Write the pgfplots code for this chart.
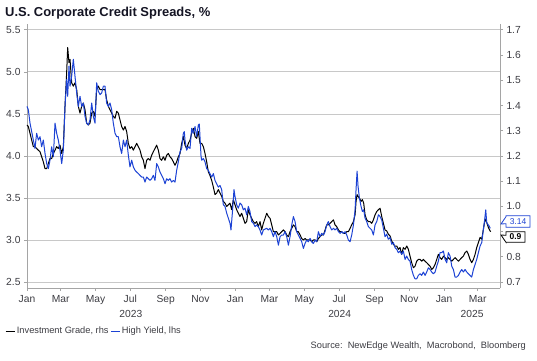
\documentclass[border=0pt]{standalone}
\usepackage{fontspec}
\setmainfont{Liberation Sans}
\usepackage{pgfplots}
\pgfplotsset{compat=1.18}
\usepackage{pgfplotstable}
\usetikzlibrary{shapes.callouts}
\definecolor{hyblue}{RGB}{28,66,212}
\definecolor{lab}{RGB}{60,60,66}
\definecolor{gridc}{RGB}{200,200,200}
\definecolor{axc}{RGB}{165,165,165}
\definecolor{ttl}{RGB}{20,20,35}

% High Yield (lhs), x = days since 1 Jan 2023
\pgfplotstableread{
d v
0 4.59
2.3 4.55
5.3 4.39
8.2 4.29
11.1 4.19
14.0 4.09
16.9 4.27
19.9 4.19
22.8 4.23
25.7 4.11
28.6 4.19
31.6 4.03
34.5 3.91
37.4 3.85
40.3 3.95
43.2 4.11
46.2 3.99
49.1 4.39
52.0 4.27
54.9 4.19
57.8 4.07
60.8 3.91
63.7 4.07
66.6 4.59
69.5 4.91
71.3 4.71
73.6 5.07
75.4 4.83
78.3 4.95
81.2 5.15
84.1 4.95
87.1 4.75
90.0 4.59
92.9 4.71
95.8 4.59
98.7 4.63
101.7 4.47
104.6 4.39
107.5 4.37
110.4 4.43
113.4 4.63
116.3 4.47
119.2 4.39
122.1 4.87
125.0 4.77
128.0 4.73
130.9 4.75
133.8 4.83
136.7 4.83
139.6 4.63
142.6 4.59
145.5 4.63
148.4 4.55
151.3 4.39
154.3 4.27
157.2 4.23
160.1 4.23
163.0 4.11
165.9 4.03
168.9 4.19
171.8 4.11
174.7 4.19
177.6 4.01
180.5 3.87
183.5 3.95
186.4 3.87
189.3 3.83
192.2 3.81
195.2 3.79
198.1 3.77
201.0 3.75
203.9 3.75
206.8 3.69
209.7 3.75
212.6 3.73
215.6 3.71
218.5 3.73
221.4 3.77
224.3 3.71
227.3 3.91
230.2 3.87
233.1 3.81
236.0 3.77
239.0 3.73
241.9 3.67
244.8 3.73
247.7 3.71
250.6 3.73
253.5 3.69
256.5 3.71
259.4 3.69
262.3 3.83
265.2 3.93
268.2 4.05
271.1 4.09
274.0 4.27
275.7 4.29
276.9 4.19
279.8 4.07
282.8 4.11
285.7 4.09
288.6 4.33
291.5 4.27
294.5 4.35
297.4 4.23
300.3 4.37
302.0 4.38
305.0 4.00
306.1 3.95
309.1 3.97
312.0 3.93
314.9 3.85
317.8 3.83
320.7 3.79
323.7 3.75
326.6 3.79
329.5 3.71
332.4 3.67
335.4 3.63
338.3 3.65
341.2 3.60
344.1 3.42
347.0 3.40
350.0 3.32
352.9 3.26
355.8 3.20
357.5 3.12
359.9 3.32
362.8 3.60
364.5 3.52
367.5 3.42
370.4 3.38
373.3 3.44
376.2 3.42
379.2 3.36
382.1 3.38
385.0 3.30
387.9 3.40
390.8 3.34
393.8 3.22
396.7 3.20
399.6 3.16
402.5 3.18
405.4 3.16
408.4 3.12
411.3 3.06
414.2 3.12
420.1 3.14
423.0 3.12
426.0 3.14
428.9 3.10
431.8 3.04
434.7 3.10
437.7 3.04
440.6 2.94
443.5 3.04
446.4 3.06
449.3 3.06
452.3 3.10
455.2 3.04
458.1 2.94
461.0 3.04
464.0 3.18
466.9 3.28
469.8 3.22
472.7 3.10
475.6 3.06
478.6 3.02
481.5 2.98
484.4 2.90
487.3 2.96
490.2 3.00
493.2 2.98
496.1 3.02
499.0 2.98
501.9 2.96
504.9 3.00
507.8 2.98
510.7 3.10
513.6 3.04
516.5 3.08
519.5 3.06
522.4 3.10
525.3 3.18
528.2 3.22
531.1 3.16
534.1 3.12
537.0 3.14
539.9 3.12
542.8 3.14
545.8 3.10
548.7 3.08
551.6 3.10
554.5 3.08
557.4 3.10
560.4 3.06
563.3 3.00
566.2 2.98
569.1 3.06
572.1 3.18
575.0 3.36
576.7 3.60
578.5 3.82
580.2 3.64
582.6 3.50
585.5 3.40
587.8 3.34
590.1 3.36
592.5 3.26
595.4 3.22
598.3 3.16
601.3 3.14
604.2 3.12
607.1 3.06
610.0 3.18
613.0 3.22
615.9 3.30
618.8 3.28
621.7 3.24
624.6 3.14
627.5 3.04
630.4 3.07
633.3 3.01
636.3 3.03
639.2 2.95
642.1 2.97
645.0 2.91
648.0 2.89
650.9 2.85
653.8 2.87
656.7 2.83
659.6 2.87
662.6 2.77
665.5 2.81
668.4 2.77
671.3 2.75
674.2 2.65
677.2 2.58
680.1 2.54
683.0 2.54
685.9 2.58
688.9 2.60
691.8 2.58
694.7 2.62
697.6 2.58
700.5 2.62
703.5 2.67
706.4 2.65
709.3 2.62
712.2 2.60
715.2 2.62
718.1 2.69
721.0 2.75
723.9 2.85
726.8 2.85
729.8 2.87
732.7 2.77
735.6 2.73
738.5 2.85
741.5 2.81
744.4 2.69
747.3 2.65
750.2 2.56
753.1 2.56
756.1 2.58
759.0 2.62
761.9 2.65
764.8 2.62
767.8 2.65
770.7 2.62
773.6 2.60
776.5 2.58
779.4 2.56
782.4 2.65
785.3 2.71
788.2 2.77
791.1 2.85
794.1 2.93
797.0 2.97
799.9 3.13
801.6 3.21
804.0 3.36
805.7 3.21
807.5 3.19
809.8 3.17
812.0 3.14
}\hy

% Investment Grade (rhs)
\pgfplotstableread{
d v
0 1.323
2.3 1.317
5.3 1.290
8.2 1.263
11.1 1.237
14.0 1.237
16.9 1.230
19.9 1.223
22.8 1.217
25.7 1.197
28.6 1.177
31.6 1.150
34.5 1.150
37.4 1.170
40.3 1.190
43.2 1.190
46.2 1.210
49.1 1.223
52.0 1.237
54.9 1.230
57.8 1.243
60.8 1.210
63.7 1.237
66.6 1.397
69.5 1.530
71.3 1.630
73.6 1.570
75.4 1.583
78.3 1.490
81.2 1.477
84.1 1.490
87.1 1.463
90.0 1.397
92.9 1.370
95.8 1.397
98.7 1.410
101.7 1.383
104.6 1.330
107.5 1.323
110.4 1.330
113.4 1.370
116.3 1.377
119.2 1.357
122.1 1.463
125.0 1.477
128.0 1.463
130.9 1.463
133.8 1.463
136.7 1.463
139.6 1.423
142.6 1.397
145.5 1.383
148.4 1.370
151.3 1.357
154.3 1.350
157.2 1.377
160.1 1.370
163.0 1.343
165.9 1.317
168.9 1.303
171.8 1.317
174.7 1.297
177.6 1.250
180.5 1.230
183.5 1.237
186.4 1.223
189.3 1.237
192.2 1.250
195.2 1.237
198.1 1.223
201.0 1.197
203.9 1.183
206.8 1.150
209.7 1.183
212.6 1.190
215.6 1.183
218.5 1.203
221.4 1.217
224.3 1.230
227.3 1.243
230.2 1.223
233.1 1.190
236.0 1.183
239.0 1.197
241.9 1.183
244.8 1.203
247.7 1.210
250.6 1.197
253.5 1.190
256.5 1.177
259.4 1.163
262.3 1.177
265.2 1.197
268.2 1.210
271.1 1.250
274.0 1.277
276.9 1.243
279.8 1.230
282.8 1.250
285.7 1.263
288.6 1.290
291.5 1.310
294.5 1.277
297.4 1.270
300.3 1.297
303.2 1.250
306.1 1.250
309.1 1.237
312.0 1.210
314.9 1.177
317.8 1.137
320.7 1.123
323.7 1.103
326.6 1.077
329.5 1.047
332.4 1.053
335.4 1.067
338.3 1.053
341.2 1.040
344.1 1.020
347.0 1.013
350.0 1.000
352.9 1.007
355.8 1.013
358.7 0.987
361.6 1.027
364.5 1.007
367.5 0.987
370.4 0.973
373.3 0.960
376.2 0.973
379.2 0.953
382.1 0.933
385.0 0.940
387.9 0.987
390.8 0.967
393.8 0.953
396.7 0.940
399.6 0.933
402.5 0.940
405.4 0.920
408.4 0.940
411.3 0.907
414.2 0.933
420.1 0.973
423.0 0.960
426.0 0.953
428.9 0.927
431.8 0.900
434.7 0.900
437.7 0.900
440.6 0.887
443.5 0.893
446.4 0.900
449.3 0.907
452.3 0.900
455.2 0.887
458.1 0.880
461.0 0.900
464.0 0.913
466.9 0.927
469.8 0.920
472.7 0.900
475.6 0.900
478.6 0.887
481.5 0.873
484.4 0.867
487.3 0.873
490.2 0.867
493.2 0.867
496.1 0.867
499.0 0.860
501.9 0.867
504.9 0.867
507.8 0.860
510.7 0.873
513.6 0.880
516.5 0.887
519.5 0.887
522.4 0.907
525.3 0.927
528.2 0.927
531.1 0.933
534.1 0.940
537.0 0.947
539.9 0.927
542.8 0.920
545.8 0.907
548.7 0.900
551.6 0.900
554.5 0.893
557.4 0.893
560.4 0.900
563.3 0.900
566.2 0.913
569.1 0.927
572.1 0.940
575.0 0.967
576.7 1.020
578.5 1.047
580.2 1.040
582.6 1.033
585.5 1.020
587.8 1.027
590.1 1.013
592.5 0.967
595.4 0.947
598.3 0.940
601.3 0.940
604.2 0.933
607.1 0.947
610.0 0.967
613.0 0.980
615.9 0.987
618.8 0.993
621.7 0.960
624.6 0.933
627.5 0.907
630.4 0.903
633.3 0.890
636.3 0.883
639.2 0.863
642.1 0.850
645.0 0.843
648.0 0.843
650.9 0.830
653.8 0.837
656.7 0.810
659.6 0.837
662.6 0.830
665.5 0.843
668.4 0.830
671.3 0.803
674.2 0.777
677.2 0.757
680.1 0.763
683.0 0.783
685.9 0.790
688.9 0.790
691.8 0.783
694.7 0.790
697.6 0.783
700.5 0.777
703.5 0.770
706.4 0.763
709.3 0.750
712.2 0.757
715.2 0.770
718.1 0.790
721.0 0.810
723.9 0.797
726.8 0.790
729.8 0.803
732.7 0.797
735.6 0.790
738.5 0.797
741.5 0.790
744.4 0.783
747.3 0.790
750.2 0.797
753.1 0.790
756.1 0.783
759.0 0.790
761.9 0.797
764.8 0.803
767.8 0.817
770.7 0.823
773.6 0.810
776.5 0.790
779.4 0.777
782.4 0.790
785.3 0.810
788.2 0.837
791.1 0.857
794.1 0.877
797.0 0.870
799.9 0.910
802.8 0.950
805.7 0.937
808.6 0.917
811.6 0.903
812.7 0.900
}\ig

\begin{document}
\begin{tikzpicture}
\useasboundingbox (0,0) rectangle (537bp,-361bp);
\pgfplotsset{
  base/.style={
    at={(27bp,-288bp)}, anchor=south west,
    width=473bp, height=264bp, scale only axis,
    xmin=0, xmax=829, clip=false,
    tick label style={font=\fontsize{10.3}{12}\selectfont, text=lab},
    /pgf/number format/assume math mode=true,
    tick align=outside, major tick length=3bp,
    tick style={axc, line width=0.8bp},
    axis line style={axc, line width=0.8bp},
  }
}
% axis 1: frame, grid, x axis, left axis, legend
\begin{axis}[base, ymin=2.43, ymax=5.57,
  axis x line*=bottom, axis y line*=left,
  ytick={2.5,3.0,3.5,4.0,4.5,5.0,5.5},
  yticklabel style={/pgf/number format/.cd, fixed, fixed zerofill, precision=1},
  ymajorgrids, grid style={gridc, line width=0.9bp},
  xtick={0,59,120,181,243,304,365,425,486,547,609,670,731,790},
  xticklabels={Jan,Mar,May,Jul,Sep,Nov,Jan,Mar,May,Jul,Sep,Nov,Jan,Mar},
  xticklabel style={yshift=-1bp},
  legend columns=2,
  legend style={at={(-0.0465,-0.163)}, anchor=west, draw=none, fill=none,
    inner sep=0pt, font=\fontsize{9.3}{11}\selectfont, text=lab,
    nodes={inner xsep=1.2bp, inner ysep=0pt},
    /tikz/every even column/.append style={column sep=0.5bp}},
  legend image code/.code={\draw[#1] (0bp,0bp) -- (9.5bp,0bp);},
]
\addlegendimage{black, line width=1bp}
\addlegendentry{Investment Grade, rhs}
\addlegendimage{hyblue, line width=1bp}
\addlegendentry{High Yield, lhs}
\node[font=\fontsize{10.3}{12}\selectfont, text=lab] at (axis cs:182,2.43) [yshift=-26bp] {2023};
\node[font=\fontsize{10.3}{12}\selectfont, text=lab] at (axis cs:548,2.43) [yshift=-26bp] {2024};
\node[font=\fontsize{10.3}{12}\selectfont, text=lab] at (axis cs:780,2.43) [yshift=-26bp] {2025};
\end{axis}
% axis 2: Investment Grade, right axis (0.9 label sits under the last-value box)
\begin{axis}[base, ymin=0.67667, ymax=1.72333,
  axis y line*=right, hide x axis,
  ytick={0.7,0.8,0.9,1.0,1.1,1.2,1.3,1.4,1.5,1.6,1.7},
  yticklabels={0.7,0.8,{},1.0,1.1,1.2,1.3,1.4,1.5,1.6,1.7},
]
\addplot[black, line width=1bp, line join=round] table[x=d, y=v] {\ig};
\end{axis}
% axis 3: High Yield, left scale
\begin{axis}[base, ymin=2.43, ymax=5.57, hide axis]
\addplot[hyblue, line width=1bp, line join=round] table[x=d, y=v] {\hy};
\end{axis}
% title, source and last-value labels
\node[anchor=west, inner sep=0pt, text=ttl, font=\bfseries\fontsize{13}{15}\selectfont] at (5bp,-13.5bp) {U.S. Corporate Credit Spreads, \%};
\node[anchor=east, inner sep=0pt, text=lab, font=\fontsize{9.3}{11}\selectfont] at (526bp,-346bp) {Source:\ \ NewEdge Wealth,\ \ Macrobond,\ \ Bloomberg};
\node[rectangle callout, draw=hyblue, fill=white, text=hyblue, line width=0.8bp,
  font=\fontsize{8.5}{10}\selectfont, inner sep=0pt, minimum width=24bp, minimum height=11.5bp,
  callout absolute pointer={(501bp,-224bp)}] at (518bp,-221.5bp) {3.14};
\node[rectangle callout, draw=black, fill=white, text=black, line width=0.8bp,
  font=\bfseries\fontsize{8.5}{10}\selectfont, inner sep=0pt, minimum width=19bp, minimum height=10.5bp,
  callout absolute pointer={(501bp,-235bp)}] at (515.5bp,-237bp) {0.9};
\end{tikzpicture}
\end{document}
